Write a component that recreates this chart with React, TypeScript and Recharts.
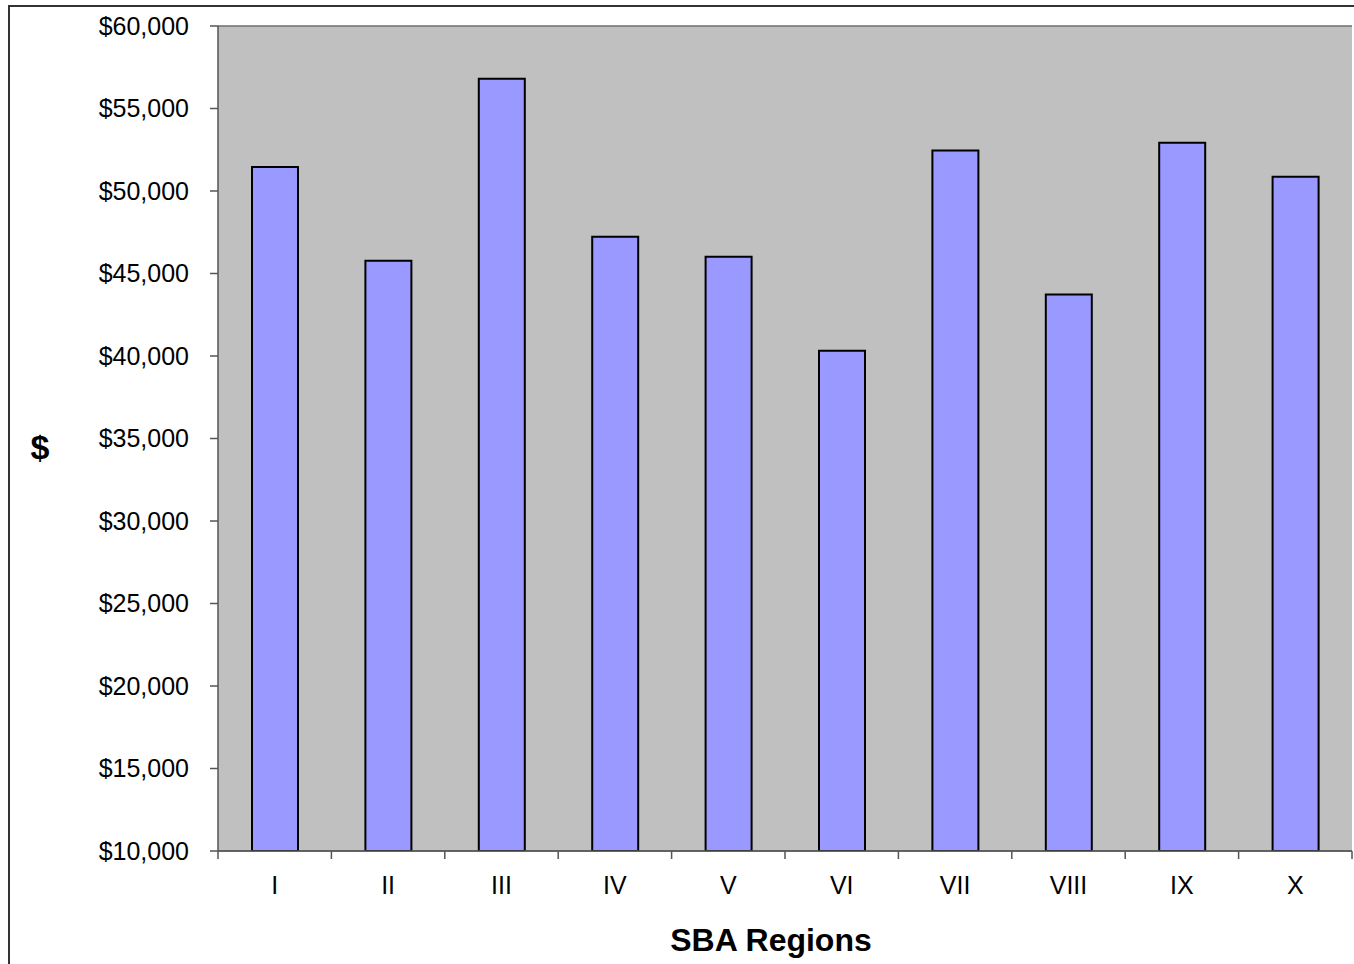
import { BarChart, Bar, XAxis, YAxis, CartesianGrid } from "recharts"

const regions = ["I", "II", "III", "IV", "V", "VI", "VII", "VIII", "IX", "X"]
const avgAmount = [51450, 45780, 56800, 47230, 46020, 40320, 52450, 43720, 52930, 50870]
const yTicks = [10000, 15000, 20000, 25000, 30000, 35000, 40000, 45000, 50000, 55000, 60000]

const FONT = "'Liberation Sans', Arial, sans-serif"
const W = 1354
const H = 964
const M = { top: 26, right: 2, left: 10, bottom: 0 }
const Y_AXIS_W = 208
const X_AXIS_H = 113
const BAND = (W - M.left - Y_AXIS_W - M.right) / regions.length

const fmt = (v: number) => "$" + v.toLocaleString("en-US")

// category label in the middle, tick mark on the left edge of each band
function RegionTick(props: any) {
  const { x, y, payload, index } = props
  const left = x - BAND / 2
  return (
    <g>
      <line x1={left} x2={left} y1={y - 8} y2={y} stroke="#555" strokeWidth={1.5} />
      {index === regions.length - 1 && (
        <line x1={x + BAND / 2} x2={x + BAND / 2} y1={y - 8} y2={y} stroke="#555" strokeWidth={1.5} />
      )}
      <text x={x} y={y + 28} textAnchor="middle" dominantBaseline="middle"
        fontFamily={FONT} fontSize={25} fill="#000">
        {payload.value}
      </text>
    </g>
  )
}

export default function App() {
  const data = regions.map((r, i) => ({ region: r, amount: avgAmount[i] }))

  return (
    <div style={{ position: "fixed", left: 0, top: 0, width: W, height: H, background: "#fff" }}>
      <div style={{
        position: "absolute", left: 8, top: 5, right: -10, bottom: -10,
        borderLeft: "2px solid #333", borderTop: "2px solid #333",
      }} />
      <BarChart width={W} height={H} data={data} margin={M}>
        <CartesianGrid vertical={false} fill="#c0c0c0" stroke="#6e6e6e" strokeWidth={1.5} />
        <XAxis dataKey="region" height={X_AXIS_H} axisLine={{ stroke: "#555", strokeWidth: 1.5 }}
          tickLine={false} tickSize={8} tickMargin={0} tick={<RegionTick />} interval={0} />
        <YAxis yAxisId="left" width={Y_AXIS_W} domain={[10000, 60000]} ticks={yTicks}
          allowDataOverflow tickFormatter={fmt} tickSize={8} tickMargin={21}
          axisLine={{ stroke: "#555", strokeWidth: 1.5 }} tickLine={{ stroke: "#555", strokeWidth: 1.5 }}
          tick={{ fontFamily: FONT, fontSize: 25, fill: "#000" }} />
        <YAxis yAxisId="right" orientation="right" width={0} tick={false} tickLine={false}
          domain={[10000, 60000]} axisLine={{ stroke: "#999", strokeWidth: 1.5 }} />
        <Bar yAxisId="left" dataKey="amount" fill="#9999ff" stroke="#000" strokeWidth={2}
          barSize={46} isAnimationActive={false} />
      </BarChart>
      <div style={{
        position: "absolute", left: 771, top: 940, transform: "translate(-50%, -50%)",
        fontFamily: FONT, fontWeight: "bold", fontSize: 32, whiteSpace: "nowrap",
      }}>SBA Regions</div>
      <div style={{
        position: "absolute", left: 40, top: 447, transform: "translate(-50%, -50%)",
        fontFamily: FONT, fontWeight: "bold", fontSize: 34,
      }}>$</div>
    </div>
  )
}
